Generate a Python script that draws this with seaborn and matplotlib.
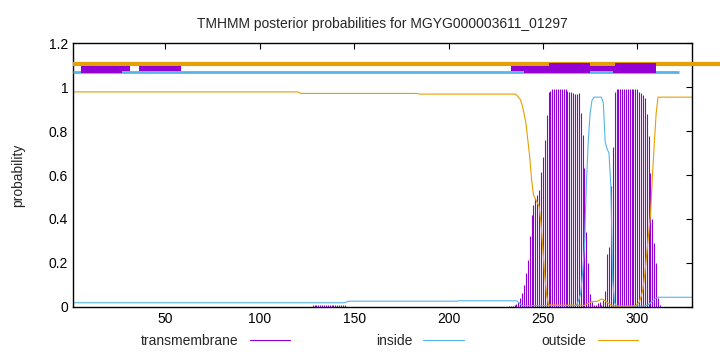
import matplotlib
matplotlib.use("Agg")
import matplotlib.pyplot as plt
from matplotlib.lines import Line2D
import seaborn as sns
import pandas as pd

# sequence / title
seq_len = 329
title = "TMHMM posterior probabilities for MGYG000003611_01297"

# outside probability (position, value)
outside_pos = [1, 120, 122, 183, 185, 235, 236, 238, 239, 240, 241, 242, 243, 244, 245, 246, 247, 248,
               249, 250, 251, 252, 253, 272, 274, 276, 279, 281, 282, 284, 286, 287, 299, 301, 302,
               303, 304, 305, 306, 307, 308, 309, 310, 311, 329]
outside_val = [0.979, 0.979, 0.972, 0.972, 0.969, 0.969, 0.965, 0.945, 0.92, 0.88, 0.837, 0.76, 0.683,
               0.58, 0.51, 0.49, 0.475, 0.456, 0.38, 0.26, 0.14, 0.05, 0.008, 0.006, 0.015, 0.023, 0.025,
               0.035, 0.033, 0.02, 0.008, 0.003, 0.003, 0.02, 0.045, 0.08, 0.15, 0.24, 0.33, 0.42, 0.59,
               0.74, 0.88, 0.955, 0.955]

# inside probability
inside_pos = [1, 145, 147, 204, 206, 236, 237, 239, 267, 268, 269, 270, 271, 272, 273, 274, 275, 276,
              277, 281, 282, 283, 284, 285, 286, 287, 288, 289, 304, 306, 308, 310, 311, 329]
inside_val = [0.018, 0.018, 0.025, 0.025, 0.027, 0.027, 0.02, 0.005, 0.005, 0.01, 0.03, 0.06, 0.15,
              0.27, 0.55, 0.75, 0.88, 0.94, 0.955, 0.955, 0.93, 0.75, 0.72, 0.70, 0.55, 0.12, 0.017,
              0.003, 0.003, 0.01, 0.025, 0.04, 0.043, 0.043]

# transmembrane probability (impulses), only residues that are above zero
tm_pos = list(range(128, 146)) + list(range(232, 313))
tm_val = ([0.008] * 18 +
          [0.003, 0.004, 0.005, 0.008, 0.012, 0.02,
           0.038, 0.061, 0.099, 0.155, 0.213, 0.322, 0.418, 0.463, 0.494, 0.509, 0.532, 0.615,
           0.683, 0.759, 0.873, 0.979, 0.985, 0.99, 0.99, 0.99, 0.99, 0.99, 0.99, 0.99, 0.99,
           0.985, 0.98, 0.98, 0.975, 0.97, 0.97, 0.972, 0.881, 0.782, 0.63, 0.342, 0.2, 0.06, 0.02,
           0.01, 0.01, 0.015, 0.02, 0.01,
           0.03, 0.07, 0.24, 0.27, 0.55, 0.73, 0.98,
           0.99, 0.99, 0.99, 0.99, 0.99, 0.99, 0.99, 0.99, 0.99, 0.99, 0.99, 0.99,
           0.98, 0.975, 0.965, 0.95, 0.88, 0.78, 0.61, 0.40, 0.29, 0.2, 0.04, 0.01])

# predicted topology strips above the plot
outside_strip = (1, 345, 1.106)
inside_strip = (1, 322, 1.068)
tm_boxes_x0 = [5, 27, 36, 233, 240, 253, 275, 287, 288]
tm_boxes_x1 = [27, 31, 58, 240, 253, 275, 287, 288, 310]
tm_boxes_lo = [1.063, 1.076, 1.075, 1.075, 1.063, 1.063, 1.075, 1.063, 1.063]
tm_boxes_hi = [1.098, 1.098, 1.098, 1.097, 1.097, 1.112, 1.097, 1.097, 1.112]

purple = "#9400d3"
blue = "#56b4e9"
orange = "#e69f00"

sns.set_style("white")
plt.rcParams['font.family'] = ['Liberation Sans', 'DejaVu Sans']
plt.rcParams['font.size'] = 10

fig = plt.figure(figsize=(7.2, 3.52), dpi=100)
ax = fig.add_axes([0.1014, 0.1287, 0.8597, 0.748])

tm = pd.DataFrame({'pos': tm_pos, 'prob': tm_val})
ax.vlines(tm.pos, 0, tm.prob, color=purple, lw=0.8)

inside = pd.DataFrame({'pos': inside_pos, 'prob': inside_val})
outside = pd.DataFrame({'pos': outside_pos, 'prob': outside_val})
sns.lineplot(data=inside, x='pos', y='prob', color=blue, lw=0.8, ax=ax)
sns.lineplot(data=outside, x='pos', y='prob', color=orange, lw=0.8, ax=ax)

# topology strips
ax.hlines(outside_strip[2], outside_strip[0], outside_strip[1], color=orange, lw=3, clip_on=False, zorder=5)
ax.hlines(inside_strip[2], inside_strip[0], inside_strip[1], color=blue, lw=2.0, zorder=5)
for x0, x1, lo, hi in zip(tm_boxes_x0, tm_boxes_x1, tm_boxes_lo, tm_boxes_hi):
    ax.fill_between([x0, x1], lo, hi, color=purple, lw=0, zorder=6)

ax.set_xlim(1, seq_len)
ax.set_ylim(0, 1.2)
ax.set_xticks([50, 100, 150, 200, 250, 300])
ax.set_yticks([0, 0.2, 0.4, 0.6, 0.8, 1.0, 1.2])
ax.set_yticklabels(['0', '0.2', '0.4', '0.6', '0.8', '1', '1.2'])
ax.tick_params(direction='in', top=True, right=True, length=4, width=0.8, colors='black', labelsize=10)
ax.set_xlabel('')
ax.set_ylabel('probability', fontsize=10, labelpad=17)
ax.set_title(title, fontsize=10, pad=11)
for s in ax.spines.values():
    s.set_color('black')
    s.set_linewidth(1)
ax.grid(False)

# legend like gnuplot: text then sample line
for lab, col, xr in [('transmembrane', purple, 0.403), ('inside', blue, 0.644), ('outside', orange, 0.886)]:
    fig.legend(handles=[Line2D([], [], color=col, lw=0.8)], labels=[lab], loc='center right',
               bbox_to_anchor=(xr, 0.031), markerfirst=False, frameon=False, handlelength=2.9,
               handletextpad=0.8, borderpad=0, borderaxespad=0, fontsize=10)

fig.savefig('out.png', dpi=100)
